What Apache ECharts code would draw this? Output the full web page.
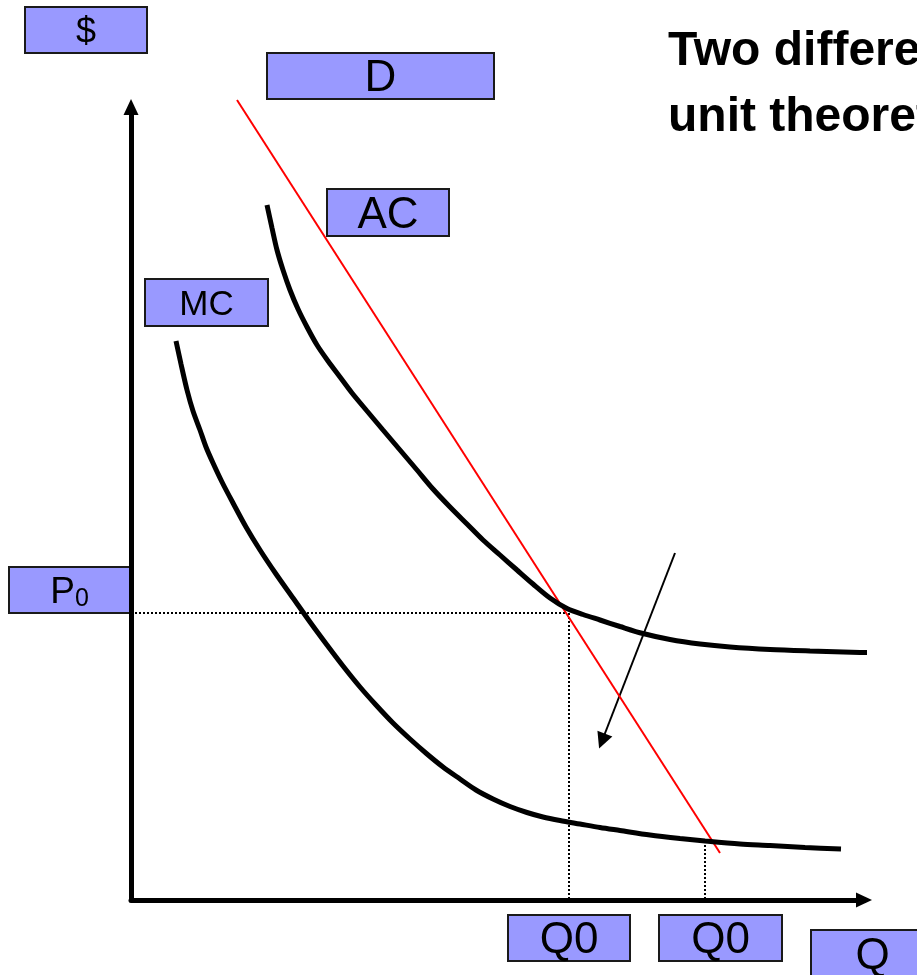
<!DOCTYPE html>
<html>
<head>
<meta charset="utf-8">
<script src="https://cdn.jsdelivr.net/npm/echarts@6/dist/echarts.min.js"></script>
<style>
html, body { margin: 0; padding: 0; background: #fff; }
#chart { width: 917px; height: 975px; }
</style>
</head>
<body>
<div id="chart"></div>
<script>
// 数据单位: 1 = 10px, 原点 = 两轴交点
const acCurve = [
    [13.6, 69.5], [14.1, 67.2], [14.6, 65.0], [15.2, 63.0], [15.9, 61.0],
    [16.7, 59.1], [17.6, 57.3], [18.6, 55.5], [19.7, 53.9], [20.9, 52.3],
    [22.1, 50.7], [23.6, 48.9], [25.2, 47.0], [26.9, 45.0], [28.6, 43.0],
    [30.2, 41.1], [31.9, 39.3], [33.6, 37.6], [35.2, 36.0], [36.9, 34.5],
    [38.6, 33.0], [40.2, 31.6], [41.9, 30.2], [43.6, 29.15], [45.2, 28.55],
    [46.9, 28.0], [48.9, 27.35], [51.2, 26.65], [53.9, 26.05], [56.9, 25.6],
    [59.9, 25.3], [63.9, 25.05], [67.9, 24.9], [72.9, 24.75], [77.1, 24.7]
];
const mcCurve = [
    [4.5, 55.9], [5.0, 53.6], [5.6, 51.0], [6.2, 48.9], [6.9, 47.0],
    [7.5, 45.3], [8.2, 43.7], [9.1, 41.8], [10.2, 39.7], [11.5, 37.3],
    [12.9, 35.0], [14.5, 32.6], [16.2, 30.2], [17.9, 27.8], [19.6, 25.5],
    [21.2, 23.4], [22.9, 21.3], [24.5, 19.5], [26.2, 17.7], [27.9, 16.1],
    [29.6, 14.6], [31.2, 13.3], [32.9, 12.1], [34.5, 11.0], [36.2, 10.1],
    [37.9, 9.35], [39.6, 8.75], [41.2, 8.3], [42.9, 7.95], [44.9, 7.6],
    [46.9, 7.25], [48.9, 6.95], [51.9, 6.5], [54.9, 6.15], [57.4, 5.9],
    [60.9, 5.6], [63.9, 5.45], [67.4, 5.25], [71.0, 5.1]
];
const demandLine = [[10.6, 80.0], [58.9, 4.7]];
const p0Level = 28.7;
const p0End = 43.6;
const q0Values = [43.8, 57.4];
const q0Tops = [28.7, 5.9];
const shiftArrow = [[54.4, 34.7], [47.1, 15.9]];
const titleLines = ['Two different', 'unit theoretical'];

const chart = echarts.init(document.getElementById('chart'));

const font = '"Liberation Sans", Arial, sans-serif';
const fill = '#9999ff';

// 标签方框
function box(x, y, w, h, text, size, rich) {
    return {
        type: 'group',
        children: [
            {
                type: 'rect',
                shape: { x: x, y: y, width: w, height: h },
                style: { fill: fill, stroke: '#1a1a1a', lineWidth: 2 }
            },
            {
                type: 'text',
                style: {
                    text: text,
                    x: x + w / 2,
                    y: y + h / 2 + 3,
                    fontSize: size,
                    fontFamily: font,
                    fill: '#000',
                    textAlign: 'center',
                    textVerticalAlign: 'middle',
                    align: 'center',
                    verticalAlign: 'middle',
                    rich: rich
                }
            }
        ]
    };
}

const dotted = { color: '#000', width: 2, type: [2, 2] };

const axisCommon = {
    type: 'value',
    min: 0,
    axisLine: {
        show: true,
        symbol: ['none', 'triangle'],
        symbolSize: [15, 16],
        lineStyle: { color: '#000', width: 5 }
    },
    axisTick: { show: false },
    axisLabel: { show: false },
    splitLine: { show: false }
};

const option = {
    animation: false,
    grid: { left: 131, right: 53, top: 107, bottom: 75 },
    xAxis: Object.assign({}, axisCommon, { max: 73.3 }),
    yAxis: Object.assign({}, axisCommon, { max: 79.3 }),
    series: [
        {
            name: 'P0',
            type: 'line',
            data: [[0, p0Level], [p0End, p0Level]],
            showSymbol: false,
            lineStyle: dotted
        },
        {
            name: 'Q0-1',
            type: 'line',
            data: [[q0Values[0], q0Tops[0]], [q0Values[0], 0]],
            showSymbol: false,
            lineStyle: dotted
        },
        {
            name: 'Q0-2',
            type: 'line',
            data: [[q0Values[1], q0Tops[1]], [q0Values[1], 0]],
            showSymbol: false,
            lineStyle: dotted
        },
        {
            name: 'D',
            type: 'line',
            data: demandLine,
            showSymbol: false,
            clip: false,
            lineStyle: { color: '#ff0000', width: 2 }
        },
        {
            name: 'AC',
            type: 'line',
            data: acCurve,
            smooth: 0.3,
            showSymbol: false,
            clip: false,
            lineStyle: { color: '#000', width: 5 }
        },
        {
            name: 'MC',
            type: 'line',
            data: mcCurve,
            smooth: 0.3,
            showSymbol: false,
            clip: false,
            lineStyle: { color: '#000', width: 5 }
        },
        {
            name: 'shift',
            type: 'lines',
            coordinateSystem: 'cartesian2d',
            data: [{ coords: shiftArrow }],
            symbol: ['none', 'triangle'],
            symbolSize: 16,
            lineStyle: { color: '#000', width: 2, opacity: 1 }
        }
    ],
    graphic: [
        box(25, 7, 122, 46, '$', 36),
        box(267, 53, 227, 46, 'D', 44),
        box(327, 189, 122, 47, 'AC', 44),
        box(145, 279, 123, 47, 'MC', 35),
        box(9, 567, 121, 46, '{a|P}{b|0}', 37, {
            a: { fontSize: 37, fontFamily: font, verticalAlign: 'bottom' },
            b: { fontSize: 25, fontFamily: font, verticalAlign: 'bottom' }
        }),
        box(508, 915, 122, 46, 'Q0', 44),
        box(659, 915, 123, 46, 'Q0', 44),
        box(811, 930, 123, 47, 'Q', 44),
        {
            type: 'text',
            style: {
                text: titleLines[0],
                x: 668, y: 52,
                font: 'bold 48px "Liberation Sans", Arial, sans-serif',
                fill: '#000',
                textVerticalAlign: 'middle',
                verticalAlign: 'middle'
            }
        },
        {
            type: 'text',
            style: {
                text: titleLines[1],
                x: 668, y: 118,
                font: 'bold 48px "Liberation Sans", Arial, sans-serif',
                fill: '#000',
                textVerticalAlign: 'middle',
                verticalAlign: 'middle'
            }
        }
    ]
};

chart.setOption(option);
</script>
</body>
</html>
